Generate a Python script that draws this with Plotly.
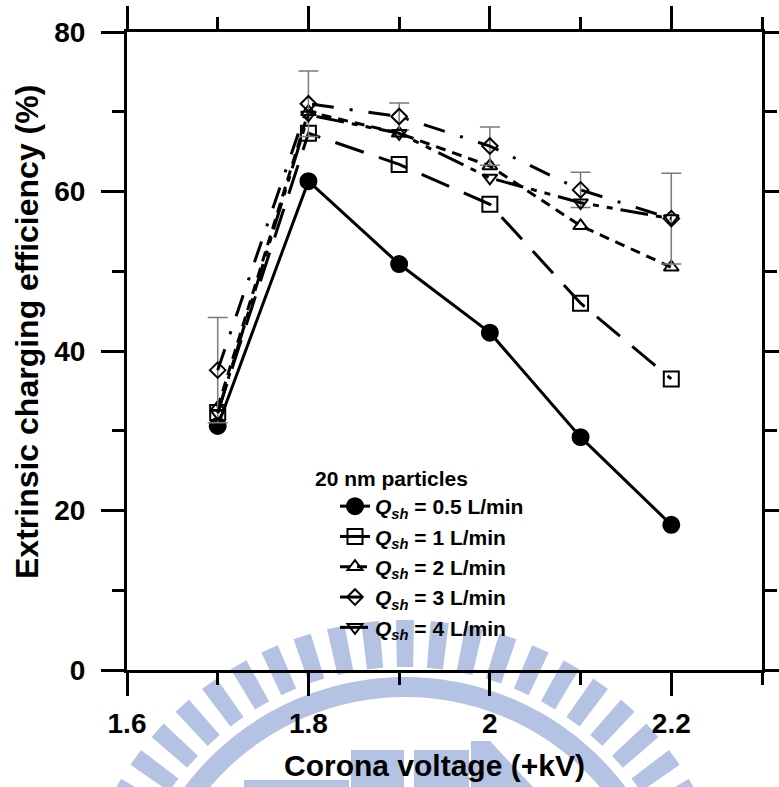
import numpy as np
import plotly.graph_objects as go

# ---------------- data ----------------
voltage = [1.7, 1.8, 1.9, 2.0, 2.1, 2.2]
eff_q05 = [30.6, 61.3, 50.9, 42.3, 29.2, 18.2]
eff_q1 = [32.3, 67.3, 63.4, 58.4, 46.0, 36.5]
eff_q2 = [32.9, 70.0, 67.3, 63.2, 55.7, 50.5]
eff_q3 = [37.6, 71.0, 69.4, 65.7, 60.2, 56.6]
eff_q3_err = [6.6, 4.1, 1.7, 2.4, 2.2, 5.7]
eff_q4 = [32.2, 69.6, 67.3, 61.7, 58.6, 56.6]
series_names = [
    "<b><i>Q</i><sub><i>sh</i></sub> = 0.5 L/min</b>",
    "<b><i>Q</i><sub><i>sh</i></sub> = 1 L/min</b>",
    "<b><i>Q</i><sub><i>sh</i></sub> = 2 L/min</b>",
    "<b><i>Q</i><sub><i>sh</i></sub> = 3 L/min</b>",
    "<b><i>Q</i><sub><i>sh</i></sub> = 4 L/min</b>",
]
legend_title = "<b>20 nm particles</b>"
x_title = "<b>Corona voltage (+kV)</b>"
y_title = "<b>Extrinsic charging efficiency (%)</b>"

FONT = "Liberation Sans, Arial, sans-serif"
W, H = 779, 787
ML, MR, MT, MB = 127, 17, 32, 117
PW, PH = W - ML - MR, H - MT - MB

fig = go.Figure()

styles = [
    dict(y=eff_q05, sym="circle", dash="solid", size=16, err=None),
    dict(y=eff_q1, sym="square-open", dash="30px,16px", size=15, err=None),
    dict(y=eff_q2, sym="triangle-up-open", dash="10px,7px", size=13, err=None),
    dict(y=eff_q3, sym="diamond-open", dash="22px,16px,3px,16px", size=12, err=eff_q3_err),
    dict(y=eff_q4, sym="triangle-down-open", dash="28px,8px,6px,8px,6px,8px", size=13, err=None),
]
for i, (st, name) in enumerate(zip(styles, series_names)):
    kw = {}
    if st["err"] is not None:
        kw["error_y"] = dict(type="data", array=st["err"], color="#7a7a7a",
                             thickness=1.5, width=10)
    fig.add_trace(go.Scatter(
        x=voltage, y=st["y"], name=name, mode="lines+markers",
        legendgroup=f"g{i}",
        line=dict(color="black", width=3, dash=st["dash"]),
        marker=dict(symbol=st["sym"], size=st["size"], color="black",
                    line=dict(color="black", width=2)),
        **kw))

# ---------------- watermark (background logo) ----------------
WM = "#b4c3e3"
cx, cy = 405.0, 953.0


def to_paper(px, py):
    return (px - ML) / PW, (H - MB - py) / PH


def poly_path(pts):
    pp = [to_paper(x, y) for x, y in pts]
    return "M " + " L ".join(f"{x:.5f},{y:.5f}" for x, y in pp) + " Z"


def polar(r, a_deg):
    a = np.radians(a_deg)
    return cx + r * np.sin(a), cy - r * np.cos(a)


shapes = []
for k in range(-11, 12):
    a = k * 6.0
    w = 1.55
    pts = [polar(286, a - w * 1.05), polar(333, a - w), polar(333, a + w), polar(286, a + w * 1.05)]
    shapes.append(dict(type="path", path=poly_path(pts), xref="paper", yref="paper",
                       fillcolor=WM, line=dict(width=0), layer="below"))
angs = np.linspace(-70, 70, 90)
band = [polar(276, a) for a in angs] + [polar(256, a) for a in angs[::-1]]
shapes.append(dict(type="path", path=poly_path(band), xref="paper", yref="paper",
                   fillcolor=WM, line=dict(width=0), layer="below"))
for (x0, y0, x1, y1) in [(244, 780, 349, 800), (351, 750, 404, 800), (414, 750, 469, 800)]:
    shapes.append(dict(type="path", path=poly_path([(x0, y0), (x1, y0), (x1, y1), (x0, y1)]),
                       xref="paper", yref="paper", fillcolor=WM, line=dict(width=0),
                       layer="below"))
shapes.append(dict(type="path", path=poly_path([(471, 741), (490, 741), (545, 800), (471, 800)]),
                   xref="paper", yref="paper", fillcolor=WM, line=dict(width=0), layer="below"))

axis_common = dict(
    showline=True, linewidth=3, linecolor="black", mirror="ticks",
    ticks="outside", ticklen=23, tickwidth=3, tickcolor="black",
    showgrid=False, zeroline=False, automargin=False,
    tickfont=dict(family=FONT, size=28, color="black", weight=700),
)

fig.update_layout(
    width=W, height=H, autosize=False,
    margin=dict(l=ML, r=MR, t=MT, b=MB, pad=0),
    paper_bgcolor="white", plot_bgcolor="rgba(0,0,0,0)",
    font=dict(family=FONT, color="black"),
    shapes=shapes,
    xaxis=dict(range=[1.6, 2.3], tickmode="linear", tick0=1.6, dtick=0.2,
               ticklabelstandoff=3,
               minor=dict(tickmode="linear", tick0=1.6, dtick=0.1, ticklen=12,
                          tickwidth=3, tickcolor="black", ticks="outside"),
               **axis_common),
    yaxis=dict(range=[0, 80], tickmode="linear", tick0=0, dtick=20,
               ticklabelstandoff=10,
               minor=dict(tickmode="linear", tick0=0, dtick=10, ticklen=12,
                          tickwidth=3, tickcolor="black", ticks="outside"),
               **axis_common),
    showlegend=True,
    legend=dict(x=(335 - ML) / PW, xanchor="left", y=(H - MB - 486) / PH, yanchor="top",
                bgcolor="rgba(0,0,0,0)", borderwidth=0, tracegroupgap=0,
                font=dict(family=FONT, size=21, color="black"),
                itemsizing="trace"),
    annotations=[
        dict(text=legend_title, x=(391 - ML) / PW, y=(H - MB - 479) / PH,
             xref="paper", yref="paper", showarrow=False, xanchor="center", yanchor="middle",
             font=dict(family=FONT, size=21, color="black")),
        dict(text=x_title, x=(434 - ML) / PW, y=(H - MB - 765) / PH,
             xref="paper", yref="paper", showarrow=False, xanchor="center", yanchor="middle",
             font=dict(family=FONT, size=30, color="black")),
        dict(text=y_title, x=(27 - ML) / PW, y=(H - MB - 332) / PH, textangle=-90,
             xref="paper", yref="paper", showarrow=False, xanchor="center", yanchor="middle",
             font=dict(family=FONT, size=32, color="black")),
    ],
)

fig.write_html("out.html")
